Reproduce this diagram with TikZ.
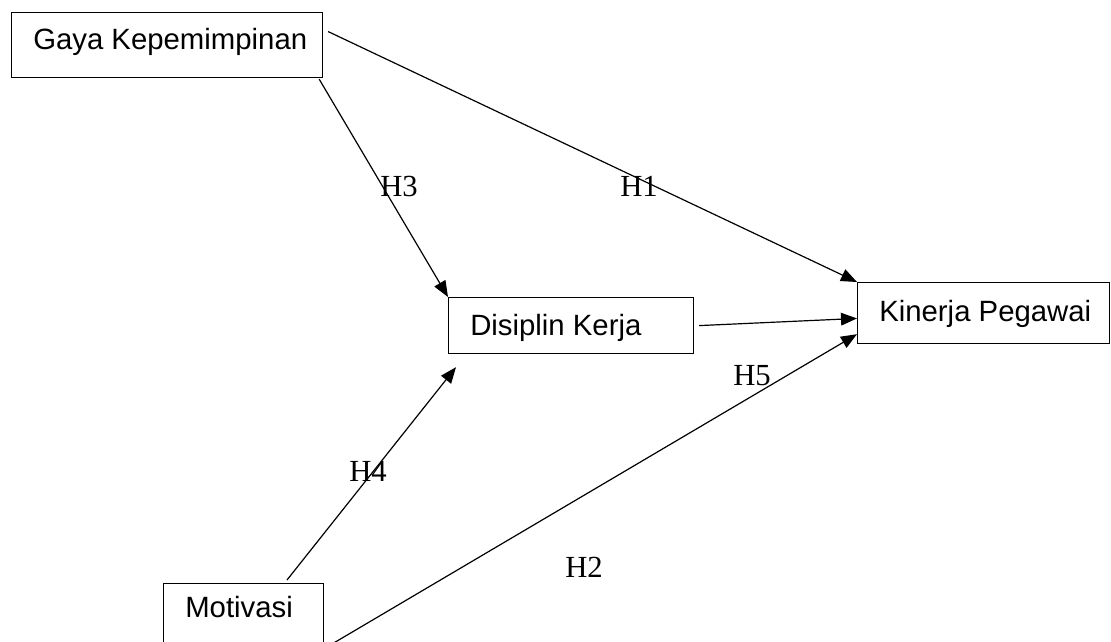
\documentclass[tikz,border=0pt]{standalone}
\usepackage{fontspec}
\setmainfont{Liberation Serif}
\setsansfont{Liberation Sans}
\usetikzlibrary{arrows.meta}
\newdimen\pxu \pxu=0.75pt
\tikzset{
  box/.style={draw, line width=0.9pt, inner sep=0pt, anchor=north west},
  boxtext/.style={anchor=base west, inner sep=0pt, font=\sffamily\fontsize{22}{26}\selectfont},
  hyp/.style={anchor=base west, inner sep=0pt, font=\rmfamily\fontsize{23}{27}\selectfont},
  link/.style={line width=0.9pt, -{Triangle[length=12pt,width=9.5pt]}}
}
\begin{document}
\begin{tikzpicture}[x=0.75pt,y=-0.75pt]
\useasboundingbox (0,0) rectangle (1111,642);
\clip (0,0) rectangle (1111,642);
% variable boxes
\node[box, minimum width=311\pxu, minimum height=65\pxu] (gk) at (11,12) {};
\node[box, minimum width=245\pxu, minimum height=56\pxu] (dk) at (448,297) {};
\node[box, minimum width=252\pxu, minimum height=61\pxu] (kp) at (857,282) {};
\node[box, minimum width=160\pxu, minimum height=80\pxu] (mo) at (163,583) {};
% box captions
\node[boxtext] (tgk) at (33,50) {Gaya Kepemimpinan};
\node[boxtext] (tdk) at (470,335) {Disiplin Kerja};
\node[boxtext] (tkp) at (879,321) {Kinerja Pegawai};
\node[boxtext] (tmo) at (185,617) {Motivasi};
% paths
\draw[link] ([shift={(5,-13.5)}]gk.east) -- (kp.north west);
\draw[link] ([shift={(-4,1)}]gk.south east) -- (dk.north west);
\draw[link] ([shift={(5,0)}]dk.east) -- ([yshift=-4]kp.west);
\draw[link] ([shift={(124,-3)}]mo.north west) -- ([shift={(8,13)}]dk.south west);
\draw[link] ([shift={(0,25)}]mo.east) -- ([shift={(0,-10)}]kp.south west);
% hypothesis labels
\node[hyp] (h3) at (380,196) {H3};
\node[hyp] (h1) at (620,196) {H1};
\node[hyp] (h4) at (349,481) {H4};
\node[hyp] (h5) at (733,385) {H5};
\node[hyp] (h2) at (565,577) {H2};
\end{tikzpicture}
\end{document}
